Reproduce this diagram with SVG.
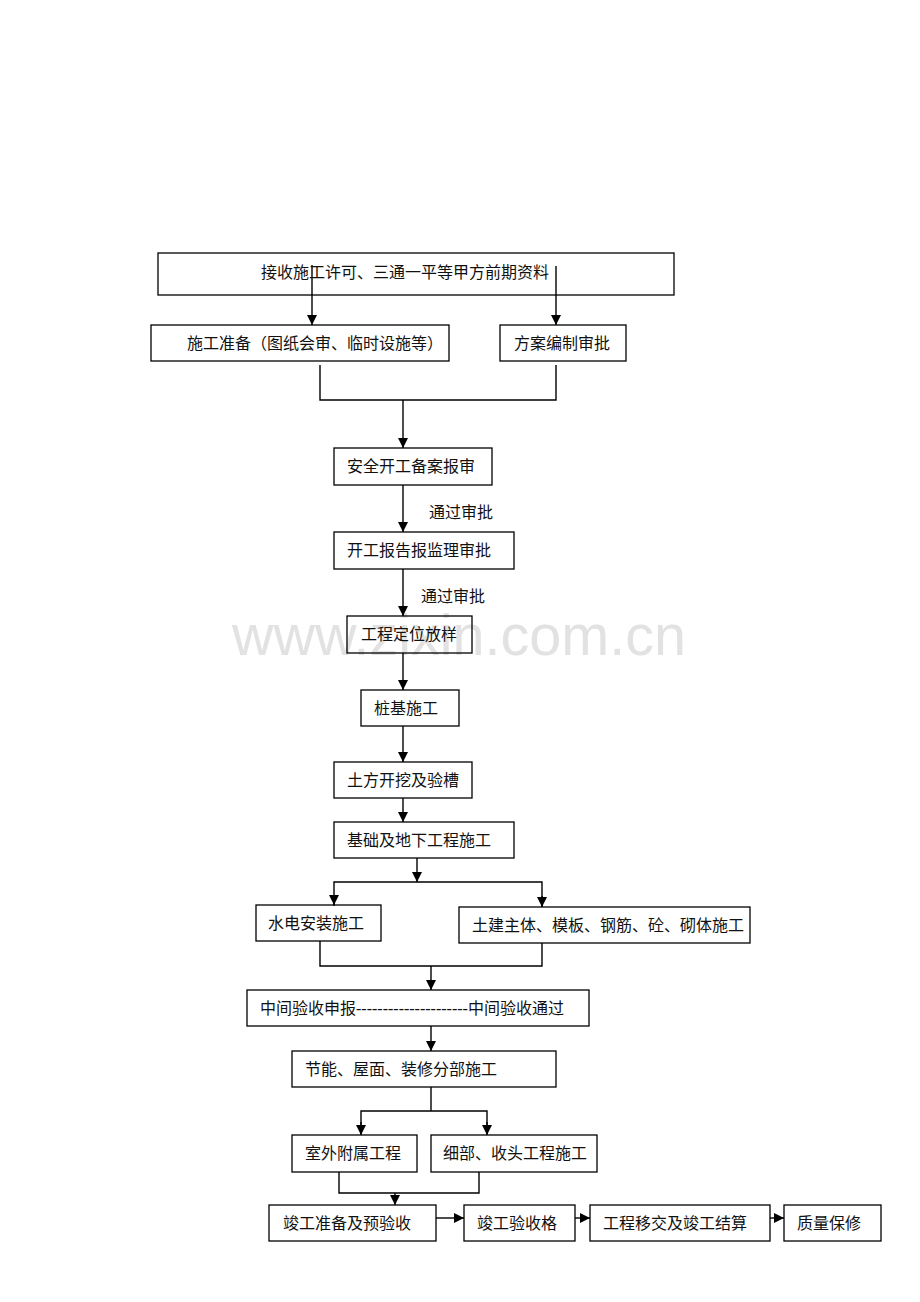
<svg xmlns="http://www.w3.org/2000/svg" width="920" height="1302" viewBox="0 0 920 1302">
<style>
.box{fill:none;stroke:#000;stroke-width:1.3}
.t{font-family:"Liberation Serif","Noto Sans CJK SC",serif;font-size:16px;fill:#111}
.c{fill:none;stroke:#000;stroke-width:1.4}
.wm{font-family:"Liberation Sans",Arial,sans-serif;font-size:57px;fill:#e2e2e2}
</style>
<defs>
<marker id="ah" markerUnits="userSpaceOnUse" markerWidth="10" markerHeight="12" viewBox="0 0 10 12" refX="10" refY="6" orient="auto">
<path d="M0,1 L10,6 L0,11 Z" fill="#000"/>
</marker>
</defs>
<rect width="920" height="1302" fill="#fff"/>
<text class="wm" x="232" y="655" textLength="454" lengthAdjust="spacingAndGlyphs">www.zixin.com.cn</text>

<g id="connectors">
<line class="c" x1="312" y1="265" x2="312" y2="325" marker-end="url(#ah)"/>
<line class="c" x1="556" y1="266" x2="556" y2="325" marker-end="url(#ah)"/>
<polyline class="c" points="320,365 320,400 556,400 556,365"/>
<line class="c" x1="403" y1="400" x2="403" y2="448" marker-end="url(#ah)"/>
<line class="c" x1="403" y1="485" x2="403" y2="532" marker-end="url(#ah)"/>
<line class="c" x1="403" y1="569" x2="403" y2="616" marker-end="url(#ah)"/>
<line class="c" x1="403" y1="653" x2="403" y2="690" marker-end="url(#ah)"/>
<line class="c" x1="403" y1="726" x2="403" y2="762" marker-end="url(#ah)"/>
<line class="c" x1="403" y1="798" x2="403" y2="822" marker-end="url(#ah)"/>
<line class="c" x1="417" y1="858" x2="417" y2="882" marker-end="url(#ah)"/>
<polyline class="c" points="334,906 334,882 542,882 542,907" />
<line class="c" x1="334" y1="895" x2="334" y2="905" marker-end="url(#ah)"/>
<line class="c" x1="542" y1="896" x2="542" y2="907" marker-end="url(#ah)"/>
<polyline class="c" points="320,941 320,966 542,966 542,943"/>
<line class="c" x1="431" y1="966" x2="431" y2="990" marker-end="url(#ah)"/>
<line class="c" x1="431" y1="1026" x2="431" y2="1051" marker-end="url(#ah)"/>
<polyline class="c" points="361,1134 361,1111 487,1111 487,1134"/>
<line class="c" x1="431" y1="1087" x2="431" y2="1111"/>
<line class="c" x1="361" y1="1122" x2="361" y2="1135" marker-end="url(#ah)"/>
<line class="c" x1="487" y1="1122" x2="487" y2="1135" marker-end="url(#ah)"/>
<polyline class="c" points="339,1172 339,1193 479,1193 479,1172"/>
<line class="c" x1="395" y1="1193" x2="395" y2="1205" marker-end="url(#ah)"/>
<line class="c" x1="436" y1="1218" x2="464" y2="1218" marker-end="url(#ah)"/>
<line class="c" x1="575" y1="1218" x2="590" y2="1218" marker-end="url(#ah)"/>
<line class="c" x1="770" y1="1218" x2="784" y2="1218" marker-end="url(#ah)"/>
</g>

<g id="n1"><rect class="box" x="158" y="253" width="516" height="42"/><text class="t" x="261" y="278">接收施工许可、三通一平等甲方前期资料</text></g>
<g id="n2"><rect class="box" x="151" y="325" width="298" height="36"/><text class="t" x="187" y="349">施工准备（图纸会审、临时设施等）</text></g>
<g id="n3"><rect class="box" x="500" y="325" width="126" height="36"/><text class="t" x="514" y="349">方案编制审批</text></g>
<g id="n4"><rect class="box" x="334" y="448" width="158" height="37"/><text class="t" x="347" y="472">安全开工备案报审</text></g>
<g id="l1"><text class="t" x="429" y="518">通过审批</text></g>
<g id="n5"><rect class="box" x="334" y="532" width="180" height="37"/><text class="t" x="347" y="556">开工报告报监理审批</text></g>
<g id="l2"><text class="t" x="421" y="602">通过审批</text></g>
<g id="n6"><rect class="box" x="347" y="616" width="125" height="37"/><text class="t" x="361" y="640">工程定位放样</text></g>
<g id="n7"><rect class="box" x="361" y="690" width="98" height="36"/><text class="t" x="374" y="714">桩基施工</text></g>
<g id="n8"><rect class="box" x="334" y="762" width="138" height="36"/><text class="t" x="347" y="786">土方开挖及验槽</text></g>
<g id="n9"><rect class="box" x="334" y="822" width="180" height="36"/><text class="t" x="347" y="846">基础及地下工程施工</text></g>
<g id="n10"><rect class="box" x="256" y="905" width="125" height="36"/><text class="t" x="268" y="929">水电安装施工</text></g>
<g id="n11"><rect class="box" x="459" y="907" width="291" height="36"/><text class="t" x="472" y="931">土建主体、模板、钢筋、砼、砌体施工</text></g>
<g id="n12"><rect class="box" x="247" y="990" width="342" height="36"/><text class="t" x="260" y="1014">中间验收申报---------------------中间验收通过</text></g>
<g id="n13"><rect class="box" x="292" y="1051" width="264" height="36"/><text class="t" x="305" y="1075">节能、屋面、装修分部施工</text></g>
<g id="n14"><rect class="box" x="292" y="1135" width="125" height="37"/><text class="t" x="305" y="1159">室外附属工程</text></g>
<g id="n15"><rect class="box" x="431" y="1135" width="166" height="37"/><text class="t" x="443" y="1159">细部、收头工程施工</text></g>
<g id="n16"><rect class="box" x="269" y="1205" width="167" height="36"/><text class="t" x="283" y="1229">竣工准备及预验收</text></g>
<g id="n17"><rect class="box" x="464" y="1205" width="111" height="36"/><text class="t" x="477" y="1229">竣工验收格</text></g>
<g id="n18"><rect class="box" x="590" y="1205" width="180" height="36"/><text class="t" x="603" y="1229">工程移交及竣工结算</text></g>
<g id="n19"><rect class="box" x="784" y="1205" width="97" height="36"/><text class="t" x="797" y="1229">质量保修</text></g>
</svg>
